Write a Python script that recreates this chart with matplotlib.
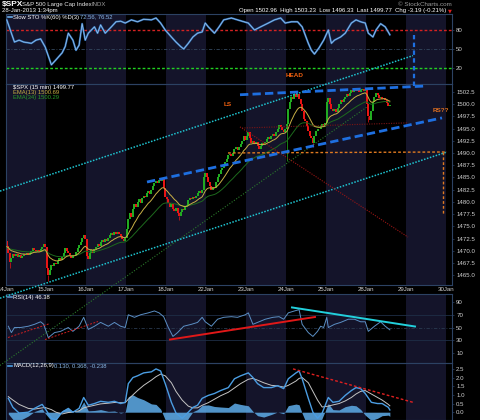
import matplotlib
matplotlib.use('Agg')
import matplotlib.pyplot as plt
import numpy as np
import pandas as pd
from matplotlib import patheffects as pe

plt.rcParams['font.family'] = ['Liberation Sans', 'DejaVu Sans']

W, H = 480, 420
BARS_PER_DAY = 26

day_labels = ['14Jan', '15Jan', '16Jan', '17Jan', '18Jan', '22Jan',
              '23Jan', '24Jan', '25Jan', '28Jan', '29Jan', '30Jan']

first_open = 1472.05
close_14jan = [1471.0, 1469.5, 1467.8, 1468.6, 1469.4, 1469.0, 1469.3, 1468.8, 1469.2, 1468.6,
               1469.0, 1469.4, 1469.1, 1469.5, 1469.2, 1469.6, 1470.0, 1470.5, 1470.2, 1469.8,
               1470.1, 1469.7, 1470.3, 1470.8, 1471.3, 1470.68]
close_15jan = [1466.5, 1465.0, 1466.0, 1467.0, 1466.8, 1467.5, 1467.2, 1468.0, 1468.5, 1468.2,
               1468.8, 1469.5, 1470.5, 1470.0, 1469.6, 1469.2, 1468.6, 1469.2, 1469.0, 1469.8,
               1470.6, 1471.2, 1471.8, 1472.6, 1473.2, 1472.34]
close_16jan = [1469.0, 1468.4, 1469.5, 1470.2, 1469.6, 1470.3, 1470.8, 1471.4, 1471.0, 1471.8,
               1472.3, 1471.8, 1472.4, 1472.0, 1472.6, 1473.2, 1473.6, 1473.2, 1473.8, 1473.4,
               1473.9, 1473.5, 1473.0, 1472.4, 1472.0, 1472.63]
close_17jan = [1474.5, 1476.5, 1477.8, 1477.0, 1478.5, 1479.5, 1479.0, 1480.0, 1480.6, 1479.8,
               1480.8, 1481.3, 1481.0, 1481.8, 1482.2, 1481.6, 1482.5, 1483.2, 1483.8, 1484.3,
               1483.9, 1484.5, 1484.2, 1484.6, 1482.8, 1480.94]
close_18jan = [1480.5, 1479.8, 1479.0, 1479.5, 1478.6, 1478.2, 1478.8, 1477.8, 1477.2, 1478.0,
               1478.6, 1478.3, 1478.9, 1479.4, 1480.3, 1480.8, 1480.5, 1481.0, 1480.7, 1481.3,
               1481.8, 1482.2, 1481.8, 1482.4, 1485.0, 1485.98]
close_22jan = [1485.0, 1484.0, 1483.2, 1482.5, 1483.0, 1482.8, 1484.0, 1485.0, 1485.6, 1486.5,
               1487.0, 1487.6, 1488.2, 1488.8, 1489.5, 1489.8, 1489.3, 1490.0, 1490.8, 1491.2,
               1490.6, 1491.3, 1491.8, 1492.5, 1493.5, 1492.56]
close_23jan = [1493.5, 1494.2, 1493.0, 1492.0, 1492.5, 1491.8, 1492.3, 1491.5, 1490.8, 1491.5,
               1492.0, 1491.6, 1492.3, 1492.8, 1493.2, 1492.8, 1493.5, 1493.8, 1493.4, 1494.2,
               1495.0, 1495.8, 1495.4, 1494.6, 1494.2, 1494.8]
close_24jan = [1496.0, 1499.0, 1500.5, 1501.5, 1501.0, 1502.0, 1501.5, 1502.0, 1501.0, 1500.0,
               1498.5, 1497.0, 1496.5, 1495.5, 1494.5, 1493.5, 1493.0, 1492.0, 1493.5, 1494.5,
               1495.0, 1494.8, 1495.5, 1496.0, 1495.6, 1496.2]
close_25jan = [1500.5, 1501.2, 1500.0, 1499.0, 1498.5, 1499.0, 1498.3, 1499.2, 1500.0, 1500.8,
               1500.5, 1501.0, 1501.5, 1502.0, 1501.6, 1502.3, 1502.8, 1502.5, 1503.0, 1502.6,
               1502.9, 1502.4, 1502.8, 1503.1, 1502.7, 1502.96]
close_28jan = [1500.0, 1497.5, 1496.8, 1498.5, 1500.5, 1501.5, 1502.3, 1501.8, 1501.2, 1501.5,
               1501.0, 1501.3, 1500.8, 1500.3, 1499.5, 1499.77]

wick_low = {2: 1466.5, 27: 1463.76, 112: 1476.3, 182: 1488.4, 199: 1491.3, 235: 1496.33}
wick_high = {130: 1485.2, 187: 1502.6, 226: 1503.23}

ema13_seed = 1470.8
ema34_seed = 1470.6

# indicator readings (bar index, value)
sto_bar = [0, 3, 5, 8, 11, 16, 19, 22, 25, 29, 32, 36, 38, 40, 43, 45, 47, 49, 51, 53, 57, 59,
           61, 64, 68, 71, 74, 77, 81, 85, 89, 94, 97, 100, 103, 107, 110, 113, 115, 118, 121,
           124, 127, 129, 131, 135, 138, 141, 146, 150, 157, 161, 165, 170, 174, 178, 181, 185,
           189, 192, 196, 198, 200, 203, 206, 209, 211, 213, 217, 220, 224, 227, 230, 233, 235,
           238, 240, 243, 246, 249]
sto_k = [96, 75, 61, 64, 61, 59, 64, 66, 53, 25, 33, 44, 54, 75, 64, 48, 56, 90, 64, 75, 85, 75,
         88, 75, 85, 93, 94, 91, 96, 93, 97, 96, 99, 91, 80, 69, 61, 54, 50, 59, 69,
         75, 77, 91, 85, 75, 85, 96, 99, 96, 91, 80, 85, 91, 96, 99, 91, 93,
         93, 85, 59, 48, 42, 52, 64, 80, 59, 64, 69, 75, 91, 96, 93, 91, 75,
         69, 80, 90, 85, 72.56]

rsi_bar = [1, 3, 5, 9, 14, 18, 22, 24, 27, 31, 35, 40, 43, 47, 50, 53, 57, 61, 66, 70, 74, 77,
           79, 83, 87, 92, 96, 99, 102, 105, 108, 111, 115, 120, 124, 127, 129, 133, 137, 141,
           146, 150, 155, 157, 160, 164, 168, 173, 177, 180, 183, 187, 190, 192, 196, 199, 202,
           204, 206, 208, 209, 213, 217, 222, 226, 230, 233, 235, 239, 243, 246, 249]
rsi_val = [52, 42, 50, 50, 52, 55, 59, 55, 34, 42, 44, 50, 44, 52, 66, 47, 52, 58, 52, 58, 52, 50,
           70, 66, 70, 73, 76, 73, 67, 50, 36, 42, 52, 55, 58, 66, 59, 52, 63, 66,
           67, 66, 70, 73, 55, 59, 63, 66, 67, 63, 73, 76, 78, 55, 42, 36, 44,
           52, 50, 66, 50, 55, 58, 63, 63, 59, 59, 44, 52, 59, 52, 46.38]

macd_bar = [1, 4, 8, 14, 18, 23, 25, 29, 32, 36, 40, 43, 47, 50, 53, 57, 61, 66, 70, 74, 77, 79,
            82, 85, 89, 94, 97, 100, 103, 107, 110, 114, 118, 121, 124, 127, 131, 135, 139, 144,
            148, 152, 157, 160, 163, 167, 172, 176, 180, 183, 188, 190, 192, 196, 199, 202, 205,
            209, 212, 216, 220, 224, 227, 230, 233, 237, 241, 244, 248, 249]
macd_val = [0.8, 0.28, -0.05, 0.0, 0.22, 0.45, 0.2, -0.35, -0.45, 0.0, 0.22, 0.0, 0.22, 0.85,
            0.4, 0.5, 0.63, 0.57, 0.63, 0.5, 0.57, 1.65, 2.0, 2.1, 2.27, 2.33, 2.5, 2.38, 1.65,
            0.57, -0.05, -0.35, 0.0, 0.28, 0.4, 0.8, 0.97, 1.08, 1.25, 1.42, 1.93, 2.1, 2.27,
            2.0, 1.65, 1.42, 1.42, 1.53, 1.36, 1.93, 2.27, 2.38, 1.93, 0.8, 0.0, -0.35, -0.05,
            0.85, 0.57, 0.63, 0.97, 1.25, 1.42, 1.36, 1.08, 0.57, 0.5, 0.5, 0.28, 0.13]
macd_sig = [0.9, 0.7, 0.45, 0.22, 0.18, 0.25, 0.27, 0.15, 0.0, -0.1, -0.02, 0.02, 0.08, 0.25,
            0.32, 0.4, 0.48, 0.52, 0.56, 0.55, 0.55, 0.75, 1.0, 1.25, 1.55, 1.85, 2.05, 2.2, 2.1,
            1.7, 1.2, 0.7, 0.35, 0.25, 0.25, 0.4, 0.55, 0.75, 0.95, 1.15, 1.4, 1.65, 1.9,
            1.95, 1.85, 1.7, 1.55, 1.52, 1.45, 1.55, 1.8, 1.95, 2.0, 1.7, 1.2, 0.7, 0.3,
            0.35, 0.42, 0.5, 0.65, 0.85, 1.05, 1.2, 1.25, 1.05, 0.85, 0.7, 0.45, 0.368]

# hand-drawn annotation lines (bar, price) pairs
upper_channel = ([-3.9, 264.55], [1482.2, 1509.9])
lower_channel = ([-3.9, 286.65], [1460.3, 1490.2])
blue_lower = ([91.65, 283.4], [1484.06, 1497.17])
blue_upper = ([152.1, 273.65], [1501.9, 1503.7])
blue_vertical = ([265.2, 265.2], [1503.7, 1514.2])
orange_level = ([144.3, 286.6], [1490.0, 1490.2])
orange_vertical = ([284.0, 284.0], [1490.1, 1477.3])
red_level = ([153.4, 260.65], [1495.1, 1496.15])
red_diag = ([152.1, 261.3], [1495.33, 1472.8])
green_long = ([-3.9, 236.6], [1446.56, 1499.84])
rsi_red1 = ([1.3, 28.6], [34.3, 56.3])
rsi_red2 = ([25.35, 59.8], [31.1, 59.4])
rsi_red3 = ([106.6, 200.85], [31.1, 66.5])
rsi_cyan = ([185.9, 265.85], [81.5, 51.6])
macd_red = ([186.55, 264.55], [2.5, 0.57])

# ---------------------------------------------------------------------------
closes = np.array(close_14jan + close_15jan + close_16jan + close_17jan + close_18jan +
                  close_22jan + close_23jan + close_24jan + close_25jan + close_28jan)
opens = np.concatenate([[first_open], closes[:-1]])
nbar = len(closes)
xb = np.arange(nbar) + 0.5

ema13 = pd.Series(np.concatenate([[ema13_seed], closes])).ewm(span=13, adjust=False).mean().values[1:]
ema34 = pd.Series(np.concatenate([[ema34_seed], closes])).ewm(span=34, adjust=False).mean().values[1:]

BG = 'black'
SHADE = '#14142a'
SPINE = '#2c4263'
TXT = '#d0d0d0'
FS = 4.4

fig = plt.figure(figsize=(W / 100, H / 100), dpi=100, facecolor=BG)


def box(top, bottom):
    return [6 / W, 1 - bottom / H, 446 / W, (bottom - top) / H]


XMAX = 446 * 0.65


def style(ax, ylim, yticks, fmt):
    ax.set_facecolor('none')
    ax.set_xlim(0, XMAX)
    ax.set_ylim(*ylim)
    for k in range(0, 12, 2):
        ax.axvspan(k * BARS_PER_DAY, (k + 1) * BARS_PER_DAY, color=SHADE, lw=0, zorder=0)
    for s in ax.spines.values():
        s.set_color(SPINE)
        s.set_linewidth(0.8)
    ax.yaxis.tick_right()
    ax.set_yticks(yticks)
    ax.set_yticklabels([fmt.format(v) for v in yticks])
    ax.tick_params(axis='y', colors=TXT, labelsize=FS, length=1.5, width=0.5, pad=1.5)
    ax.tick_params(axis='y', color=SPINE)
    ax.set_xticks([])


ax_sto = fig.add_axes(box(14, 84), zorder=1)
ax_rsi = fig.add_axes(box(294, 363), zorder=1)
ax_macd = fig.add_axes(box(363, 420), zorder=1)
ax_px = fig.add_axes(box(84, 285), zorder=3)

style(ax_sto, (-5.3, 105.3), [20, 50, 80], '{:g}')
style(ax_px, (1463.0, 1504.1), list(np.arange(1465, 1503, 2.5)), '{:.1f}')
style(ax_rsi, (-5.7, 102.6), [10, 30, 50, 70, 90], '{:g}')
style(ax_macd, (-0.45, 2.84), [0, 0.5, 1.0, 1.5, 2.0, 2.5], '{:.1f}')

ax_px.set_xticks(np.arange(12) * BARS_PER_DAY)
ax_px.set_xticklabels(day_labels)
ax_px.tick_params(axis='x', colors=TXT, labelsize=FS, length=0, pad=1.2)

# --- STO panel
ax_sto.axhline(80, color='#d42222', lw=1.0, ls=(0, (2, 1.5)), zorder=1)
ax_sto.axhline(20, color='#22d022', lw=1.0, ls=(0, (2, 1.5)), zorder=1)
ax_sto.axhline(50, color='#34485f', lw=0.6, ls=(0, (4, 2, 1, 2)), zorder=1)
ax_sto.plot(np.array(sto_bar) + 0.5, sto_k, color='#9cc8ee', lw=0.5, zorder=3,
            path_effects=[pe.Stroke(linewidth=1.4, foreground='#2f6db5'), pe.Normal()])

# --- price panel
up = closes >= opens
lo = np.minimum(opens, closes)
hi = np.maximum(opens, closes)
hi = np.maximum(hi, lo + 0.2)
cols = np.where(up, '#22b022', '#ee1515')
for b, v in wick_low.items():
    ax_px.vlines(xb[b], v, lo[b], color=cols[b], lw=0.5, zorder=2)
for b, v in wick_high.items():
    ax_px.vlines(xb[b], hi[b], v, color=cols[b], lw=0.5, zorder=2)
ax_px.vlines(xb, lo, hi, colors=cols, lw=1.4, zorder=2)
ax_px.plot(xb, ema34, color='#1d6a1d', lw=0.7, zorder=3)
ax_px.plot(xb, ema13, color='#c9b046', lw=0.7, zorder=3)


def ann(ax, seg, color, lw, ls, z=4):
    ax.plot(seg[0], seg[1], color=color, lw=lw, ls=ls, clip_on=False, zorder=z)


ann(ax_px, green_long, '#2a7a2a', 0.8, (0, (1, 1.5)), 1.5)
ann(ax_px, upper_channel, '#1fc4d0', 1.1, (0, (1, 1)))
ann(ax_px, lower_channel, '#1fc4d0', 1.1, (0, (1, 1)))
ann(ax_px, red_level, '#7a1515', 0.8, (0, (1, 1.2)))
ann(ax_px, red_diag, '#9a1515', 0.8, (0, (1, 1.2)))
ann(ax_px, orange_level, '#e07a20', 1.0, (0, (2, 1.5)))
ann(ax_px, orange_vertical, '#e07a20', 1.0, (0, (2, 1.5)))
ann(ax_px, blue_lower, '#1e6fe0', 2.0, (0, (3, 1.5)))
ann(ax_px, blue_upper, '#1e6fe0', 2.0, (0, (3, 1.5)))
ann(ax_px, blue_vertical, '#1e6fe0', 1.6, (0, (2, 1.5)))

ax_px.text(187.8, 1505.8, 'HEAD', color='#f06010', fontsize=4.6, fontweight='bold',
           ha='center', va='center', clip_on=False, zorder=5)
ax_px.text(144.3, 1500.0, 'LS', color='#f06010', fontsize=4.6, fontweight='bold',
           ha='center', va='center', zorder=5)
ax_px.text(282.7, 1498.6, 'RS??', color='#e07020', fontsize=4.6, fontweight='bold',
           ha='center', va='center', zorder=5)

# --- RSI panel
ax_rsi.axhline(70, color='#1e2e46', lw=0.6, zorder=1)
ax_rsi.axhline(30, color='#1e2e46', lw=0.6, zorder=1)
ax_rsi.axhline(50, color='#2a3a50', lw=0.6, ls=(0, (4, 2, 1, 2)), zorder=1)
ax_rsi.plot(np.array(rsi_bar) + 0.5, rsi_val, color='#5b8fc4', lw=0.7, zorder=3)
ann(ax_rsi, rsi_red1, '#d02020', 0.7, (0, (2, 1.5)))
ann(ax_rsi, rsi_red2, '#d02020', 0.7, (0, (2, 1.5)))
ann(ax_rsi, rsi_red3, '#e01818', 1.4, '-')
ann(ax_rsi, rsi_cyan, '#22d0dc', 1.4, '-')

# --- MACD panel
mb = np.array(macd_bar) + 0.5
mv = np.array(macd_val)
ms = np.array(macd_sig)
ax_macd.fill_between(mb, 0, mv - ms, color='#5aa4de', alpha=0.9, lw=0, zorder=2)
ax_macd.plot(mb, ms, color='#c4c4c4', lw=0.7, zorder=3)
ax_macd.plot(mb, mv, color='#4b9de2', lw=1.0, zorder=4)
ann(ax_macd, macd_red, '#e02020', 1.0, (0, (2, 1.5)))


# --- texts in pixel coordinates
def ftxt(x, y, s, **kw):
    kw.setdefault('fontsize', FS)
    kw.setdefault('color', 'white')
    fig.text(x / W, 1 - y / H, s, va='center', **kw)


ftxt(2, 4.5, r'\$SPX', fontsize=6.0, fontweight='bold')
ftxt(22, 4.5, 'S&P 500 Large Cap Index', color='#e8e8e8', fontsize=4.3)
ftxt(92, 4.5, 'INDX', color='#a0a0a0', fontsize=4.3)
ftxt(2, 10.8, '28-Jan-2013 1:34pm', fontsize=4.3)
ftxt(452, 4.5, '© StockCharts.com', color='#9a9a9a', fontsize=4.5, ha='right')
ftxt(446, 10.8, 'Open 1502.96  High 1503.23  Low 1496.33  Last 1499.77  Chg -3.19 (-0.21%)',
     fontsize=4.3, ha='right')
ftxt(447.5, 10.8, '▼', color='#e02020', fontsize=3.6, family=['DejaVu Sans'])


# legends
def icon(x, y, color, lw=1.2):
    fig.add_artist(plt.Line2D([x / W, (x + 4) / W], [1 - y / H, 1 - y / H],
                              color=color, lw=lw, transform=fig.transFigure))


icon(8, 17, '#6aaee8')
ftxt(13, 17, 'Slow STO %K(60) %D(3)', fontsize=4.2)
ftxt(80, 17, '72.56, 76.52', color='#8ab8e6', fontsize=4.2)
icon(8, 87, '#4a8ad8', 2.5)
ftxt(13, 87, r'\$SPX (15 min) 1499.77', fontsize=4.2)
icon(8, 92.5, '#c9b046')
ftxt(13, 92.5, 'EMA(13) 1500.69', color='#c9b046', fontsize=4.2)
icon(8, 98, '#2a9a2a')
ftxt(13, 98, 'EMA(34) 1500.29', color='#2a9a2a', fontsize=4.2)
icon(8, 297, '#5b8fc4')
ftxt(13, 297, 'RSI(14) 46.38', fontsize=4.2)
icon(8, 366, '#4b9de2')
ftxt(13, 366, 'MACD(12,26,9)', fontsize=4.2)
ftxt(54, 366, '0.130, 0.368, -0.238', color='#8ab8e6', fontsize=4.2)

fig.savefig('out.png', dpi=100, facecolor=BG)
